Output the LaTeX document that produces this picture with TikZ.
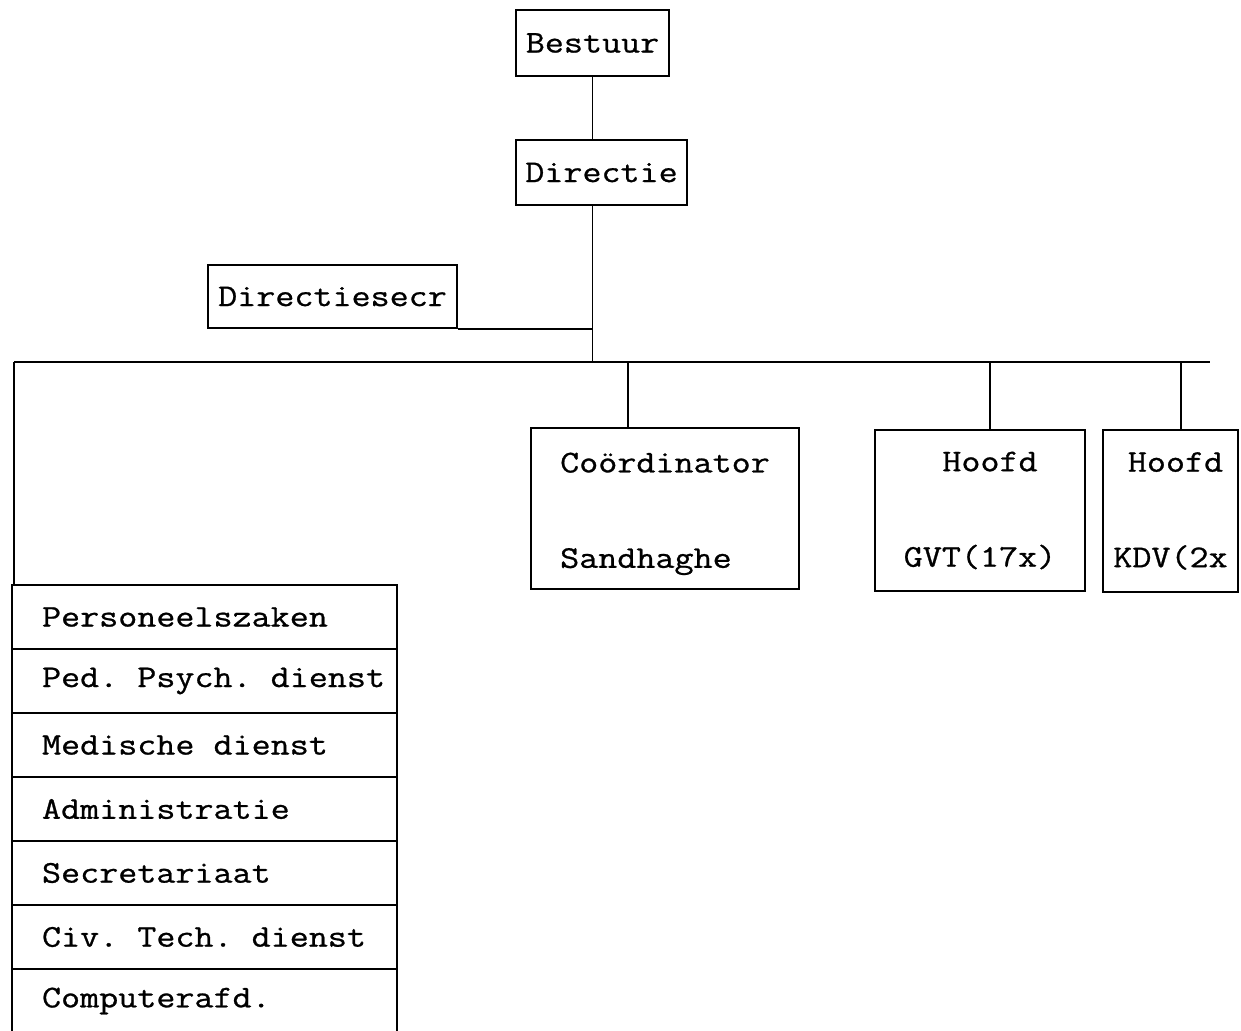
\documentclass[tikz,border=0pt]{standalone}
\usepackage{fontspec}
\setmonofont[FakeStretch=1.17,FakeBold=0.8]{Latin Modern Mono}
% one character wide blank for the typewriter face
\newcommand\tsp{\hphantom{x}}
\begin{document}
\begin{tikzpicture}[x=0.02cm,y=-0.02cm,line width=1pt,
	every node/.style={font=\ttfamily\fontsize{18}{21.6}\selectfont},
	box/.style={draw,inner sep=0pt},
	unit/.style={draw,inner sep=0pt,align=center},
	row/.style={draw,minimum height=1.28cm,text width=6.5cm,inner xsep=0.6cm,inner ysep=0pt,align=left}]
		\useasboundingbox (0,0) rectangle (1241,1031);
		% top of the tree
		\node[box,minimum width=3.06cm,minimum height=1.32cm] (bestuur) at (592.5,43) {Bestuur};
		\node[box,minimum width=3.42cm,minimum height=1.30cm] (directie) at (601.5,172.5) {Directie};
		\node[box,minimum width=4.98cm,minimum height=1.26cm] (secr) at (332.5,296.5) {Directiesecr};
		\coordinate (busL) at (14,362);
		\coordinate (busR) at (1210,362);
		\draw (bestuur) -- (bestuur |- directie.north);
		\draw (bestuur |- directie.south) -- (bestuur |- busL);
		\draw (secr.south east) -- (bestuur |- secr.south);
		\draw (busL) -- (busR);
		% units hanging from the bus
		\node[unit,align=left,minimum width=5.36cm,minimum height=3.22cm] (coord) at (665,508.5) {\\[-0.15cm]Co\"ordinator\\[1.15cm]Sandhaghe};
		\node[unit,minimum width=4.2cm,minimum height=3.22cm] (gvt) at (980,510.5) {\hspace*{0.4cm}Hoofd\\[1.15cm]GVT(17x)};
		\node[unit,minimum width=2.7cm,minimum height=3.24cm] (kdv) at (1170.5,511) {\hspace*{0.2cm}Hoofd\\[1.15cm]KDV(2x};
		\coordinate (t1) at (628,362);
		\coordinate (t2) at (990,362);
		\coordinate (t3) at (1181,362);
		\draw (t1) -- (t1 |- coord.north);
		\draw (t2) -- (t2 |- gvt.north);
		\draw (t3) -- (t3 |- kdv.north);
		% staff services
		\foreach \name/\txt [count=\i] in {pz/Personeelszaken,pp/Ped.\tsp Psych.\tsp dienst,md/Medische\tsp dienst,adm/Administratie,sec/Secretariaat,ctd/Civ.\tsp Tech.\tsp dienst,comp/Computerafd.}
			\node[row] (\name) at (204.5,{553+64*\i}) {\mbox{\txt}};
		\draw (busL) -- (busL |- pz.north);
		\end{tikzpicture}
\end{document}
